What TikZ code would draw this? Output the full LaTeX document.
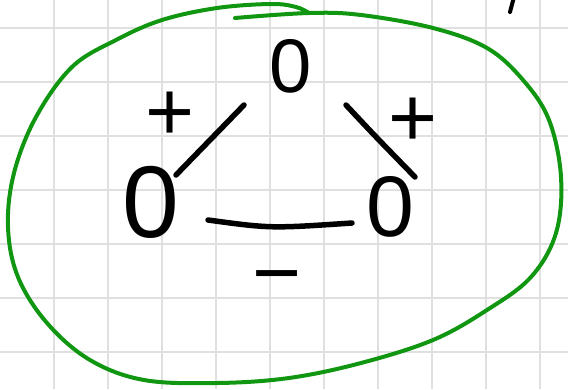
\documentclass[tikz,border=0pt]{standalone}
\usepackage{fontspec}
\setmainfont{Liberation Sans}
\usetikzlibrary{calc}
\definecolor{loopgreen}{RGB}{16,150,16}
\definecolor{gridgray}{RGB}{224,224,224}
\tikzset{
  zero/.style={inner sep=0pt, font=\fontsize{#1}{#1}\selectfont},
  signlabel/.style={inner sep=0pt, font=\fontsize{84}{84}\selectfont},
  edgeline/.style={line width=5.5pt, line cap=round},
  loopline/.style={draw=loopgreen, line width=4pt, line cap=round, line join=round},
  gridline/.style={draw=gridgray, line width=1.5pt}
}

\begin{document}
\begin{tikzpicture}[x=1pt, y=-1pt]
  \useasboundingbox (0,0) rectangle (568,389);
  % squared paper
  \foreach \gx in {54,108,...,540} \draw[gridline] (\gx,0) -- (\gx,389);
  \foreach \gy in {28,82,...,352} \draw[gridline] (0,\gy) -- (568,\gy);

  \node[zero=76] (top) at (291,66) {0};
  \node[zero=102] (left) at (151,202) {0};
  \node[zero=86] (right) at (390,207) {0};

  \node[signlabel] (plusleft) at (170,116) {+};
  \node[signlabel] (plusright) at (413,122) {+};
  \node[signlabel] (minus) at (277,286) {−};

  \draw[edgeline] ($(top)+(-47,39)$) -- ($(left)+(25,-27)$);
  \draw[edgeline] ($(top)+(55,39)$) .. controls ($(top)+(84,70)$) .. ($(right)+(25,-30)$);
  \draw[edgeline] ($(left)+(57,18)$) .. controls ($(left)!0.5!(right)+(0,24)$) .. ($(right)+(-38,16)$);

  % green loop round the triangle
  \draw[loopline] plot[smooth, tension=0.6] coordinates {
    (235,18) (309,13) (361,15) (433,28) (487,48) (523,80) (549,120)
    (561,177) (556,233) (531,277) (487,310) (433,340) (361,363) (289,378)
    (217,383) (144,380) (90,360) (47,323) (18,277) (8,227) (14,173)
    (36,117) (72,67) (116,40) (162,20) (217,8) (271,4) (296,7) (309,13)};

  \draw[line width=4pt, line cap=round] (514,-3) -- (510,12);
\end{tikzpicture}
\end{document}
